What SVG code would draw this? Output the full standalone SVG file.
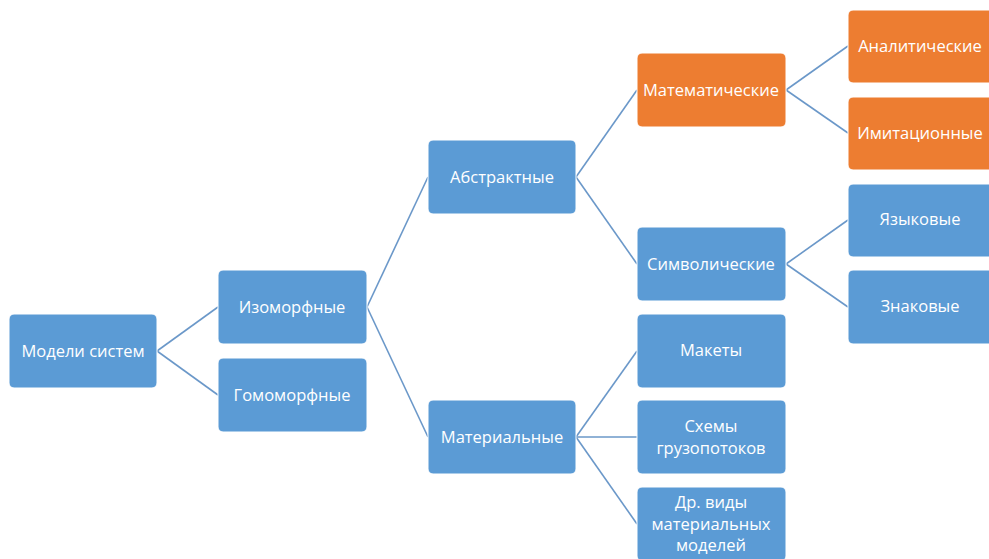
<svg xmlns="http://www.w3.org/2000/svg" width="989" height="559" viewBox="0 0 989 559">
<style>
.n{fill:#5b9bd5;stroke:#ffffff;stroke-width:1}
.o{fill:#ed7d31;stroke:#ffffff;stroke-width:1}
.t{font-family:"Open Sans","Liberation Sans",sans-serif;font-size:16.5px;fill:#ffffff;text-anchor:middle}
.c line{stroke:#6b98c9;stroke-width:1.6}
</style>
<rect width="989" height="559" fill="#ffffff"/>
<g class="c" id="connectors">
<line x1="157" y1="351" x2="218" y2="307"/>
<line x1="157" y1="351" x2="218" y2="395"/>
<line x1="367" y1="307" x2="428" y2="177"/>
<line x1="367" y1="307" x2="428" y2="437"/>
<line x1="576" y1="177" x2="637" y2="90"/>
<line x1="576" y1="177" x2="637" y2="264"/>
<line x1="576" y1="437" x2="637" y2="351"/>
<line x1="576" y1="437" x2="637" y2="437"/>
<line x1="576" y1="437" x2="637" y2="524"/>
<line x1="786" y1="90" x2="848" y2="46"/>
<line x1="786" y1="90" x2="848" y2="133"/>
<line x1="786" y1="264" x2="848" y2="220"/>
<line x1="786" y1="264" x2="848" y2="307"/>
</g>
<g id="n-modeli"><rect class="n" x="9" y="314" width="148" height="74" rx="5"/><text class="t" x="83" y="357">Модели систем</text></g>
<g id="n-izo"><rect class="n" x="218" y="270" width="149" height="74" rx="5"/><text class="t" x="292" y="313">Изоморфные</text></g>
<g id="n-gomo"><rect class="n" x="218" y="358" width="149" height="74" rx="5"/><text class="t" x="292" y="401">Гомоморфные</text></g>
<g id="n-abstr"><rect class="n" x="428" y="140" width="148" height="74" rx="5"/><text class="t" x="502" y="183">Абстрактные</text></g>
<g id="n-mater"><rect class="n" x="428" y="400" width="148" height="74" rx="5"/><text class="t" x="502" y="443">Материальные</text></g>
<g id="n-matem"><rect class="o" x="637" y="53" width="149" height="74" rx="5"/><text class="t" x="711" y="96">Математические</text></g>
<g id="n-simv"><rect class="n" x="637" y="227" width="149" height="74" rx="5"/><text class="t" x="711" y="270">Символические</text></g>
<g id="n-makety"><rect class="n" x="637" y="314" width="149" height="74" rx="5"/><text class="t" x="711" y="356">Макеты</text></g>
<g id="n-skhemy"><rect class="n" x="637" y="400" width="149" height="74" rx="5"/><text class="t" x="711" y="432">Схемы</text><text class="t" x="711" y="454">грузопотоков</text></g>
<g id="n-dr"><rect class="n" x="637" y="487" width="149" height="74" rx="5"/><text class="t" x="711" y="508">Др. виды</text><text class="t" x="711" y="530">материальных</text><text class="t" x="711" y="551">моделей</text></g>
<g id="n-analit"><rect class="o" x="848" y="10" width="149" height="73" rx="5"/><text class="t" x="920" y="52">Аналитические</text></g>
<g id="n-imit"><rect class="o" x="848" y="97" width="149" height="73" rx="5"/><text class="t" x="920" y="139">Имитационные</text></g>
<g id="n-yazyk"><rect class="n" x="848" y="184" width="149" height="73" rx="5"/><text class="t" x="920" y="225">Языковые</text></g>
<g id="n-znak"><rect class="n" x="848" y="270" width="149" height="74" rx="5"/><text class="t" x="920" y="312">Знаковые</text></g>
</svg>
